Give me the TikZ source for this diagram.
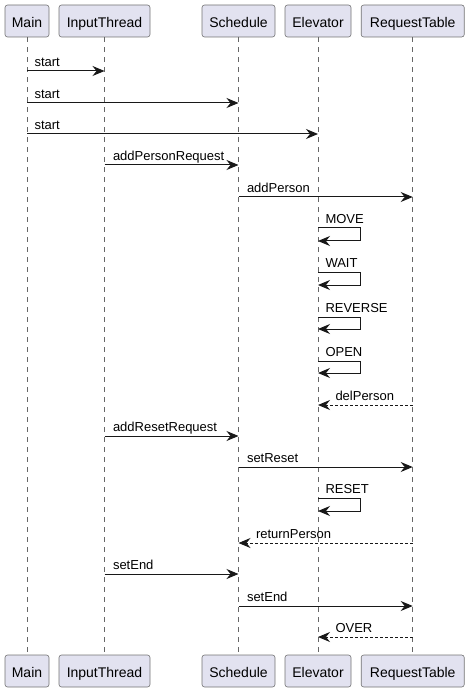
\documentclass[tikz,border=0pt]{standalone}
\usepackage{fontspec}
\setmainfont{Liberation Sans}
\usetikzlibrary{arrows.meta}
\definecolor{partfill}{HTML}{E2E2F0}
\definecolor{ink}{HTML}{181818}

\begin{document}
\begin{tikzpicture}[x=1pt,y=-1pt]
\useasboundingbox (0,0) rectangle (469,692);
\begin{scope}[every node/.style={rectangle,rounded corners=2.5pt,draw=black!55,line width=0.6pt,
                                 fill=partfill,minimum height=32pt,inner sep=0pt,
                                 text height=14.5pt,text depth=2pt,
                                 font=\fontsize{14}{16}\selectfont}]
    \node[minimum width=44pt] (Main) at (27,21) {Main};
    \node[minimum width=91pt] (InputThread) at (104.5,21) {InputThread};
    \node[minimum width=73pt] (Schedule) at (238.5,21) {Schedule};
    \node[minimum width=66pt] (Elevator) at (318,21) {Elevator};
    \node[minimum width=103pt] (RequestTable) at (412.7,21) {RequestTable};
    \node[minimum width=44pt] (MainB) at (27,671) {Main};
    \node[minimum width=91pt] (InputThreadB) at (104.5,671) {InputThread};
    \node[minimum width=73pt] (ScheduleB) at (238.5,671) {Schedule};
    \node[minimum width=66pt] (ElevatorB) at (318,671) {Elevator};
    \node[minimum width=103pt] (RequestTableB) at (412.7,671) {RequestTable};
\end{scope}

% lifelines
\begin{scope}[every edge/.style={draw=black!60,line width=0.5pt,dash pattern=on 5pt off 5pt}]
    \path (Main) edge (MainB);
    \path (InputThread) edge (InputThreadB);
    \path (Schedule) edge (ScheduleB);
    \path (Elevator) edge (ElevatorB);
    \path (RequestTable) edge (RequestTableB);
\end{scope}

% messages
\begin{scope}[>={Stealth[length=12pt,width=10pt,inset=4pt]},
              every node/.style={font=\fontsize{13}{15}\selectfont,inner sep=0pt,
                                 anchor=base west,yshift=4.5pt},
              every edge/.style={draw=ink,line width=1pt},
              reply/.style={dash pattern=on 2.5pt off 2.5pt},
              selfcall/.style={to path={-- ++(42,0) \tikztonodes |- (\tikztotarget)}}]
    \path [->] (Main |- 0,71) edge node[pos=0,xshift=7pt] (m1) {start} (InputThread |- 0,71);
    \path [->] (Main |- 0,103) edge node[pos=0,xshift=7pt] (m2) {start} (Schedule |- 0,103);
    \path [->] (Main |- 0,134) edge node[pos=0,xshift=7pt] (m3) {start} (Elevator |- 0,134);
    \path [->] (InputThread |- 0,165) edge node[pos=0,xshift=8pt] (m4) {addPersonRequest} (Schedule |- 0,165);
    \path [->] (Schedule |- 0,197) edge node[pos=0,xshift=8pt] (m5) {addPerson} (RequestTable |- 0,197);
    \path [->] (Elevator |- 0,228) edge[selfcall] node[pos=0,xshift=7pt] (m6) {MOVE} (Elevator |- 0,241);
    \path [->] (Elevator |- 0,272) edge[selfcall] node[pos=0,xshift=7pt] (m7) {WAIT} (Elevator |- 0,285);
    \path [->] (Elevator |- 0,317) edge[selfcall] node[pos=0,xshift=7pt] (m8) {REVERSE} (Elevator |- 0,329);
    \path [->] (Elevator |- 0,361) edge[selfcall] node[pos=0,xshift=7pt] (m9) {OPEN} (Elevator |- 0,373);
    \path [->] (RequestTable |- 0,405) edge[reply] node[pos=1,xshift=17pt] (m10) {delPerson} (Elevator |- 0,405);
    \path [->] (InputThread |- 0,436) edge node[pos=0,xshift=8pt] (m11) {addResetRequest} (Schedule |- 0,436);
    \path [->] (Schedule |- 0,467) edge node[pos=0,xshift=8pt] (m12) {setReset} (RequestTable |- 0,467);
    \path [->] (Elevator |- 0,498) edge[selfcall] node[pos=0,xshift=7pt] (m13) {RESET} (Elevator |- 0,511);
    \path [->] (RequestTable |- 0,543) edge[reply] node[pos=1,xshift=17pt] (m14) {returnPerson} (Schedule |- 0,543);
    \path [->] (InputThread |- 0,574) edge node[pos=0,xshift=8pt] (m15) {setEnd} (Schedule |- 0,574);
    \path [->] (Schedule |- 0,606) edge node[pos=0,xshift=8pt] (m16) {setEnd} (RequestTable |- 0,606);
    \path [->] (RequestTable |- 0,637) edge[reply] node[pos=1,xshift=17pt] (m17) {OVER} (Elevator |- 0,637);
\end{scope}
\end{tikzpicture}
\end{document}
